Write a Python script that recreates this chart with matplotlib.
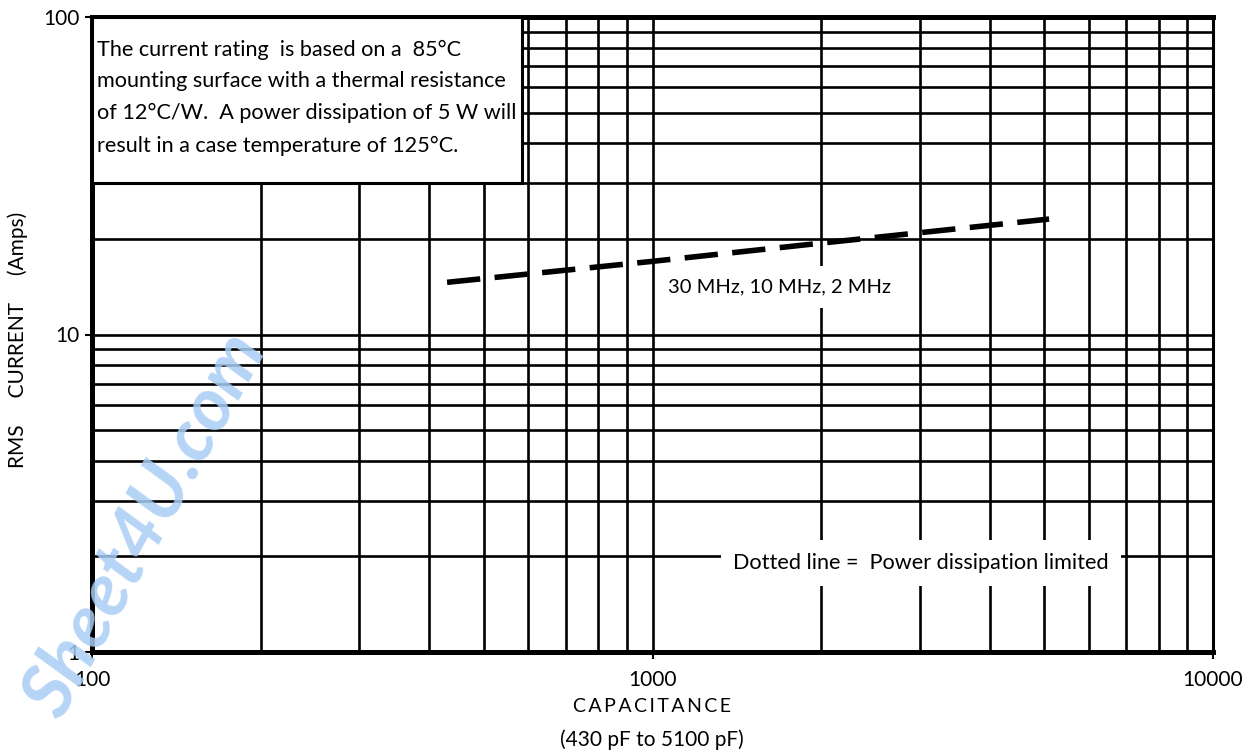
import matplotlib
matplotlib.use("Agg")
import matplotlib.pyplot as plt
from matplotlib.patches import Rectangle
from matplotlib.ticker import LogLocator, NullFormatter

# === data ===
cap_pf = [430, 1000, 2000, 5100]
current_a = [14.6, 17.0, 19.4, 23.1]

x_ticks = [100, 1000, 10000]
x_tick_labels = ["100", "1000", "10000"]
y_ticks = [1, 10, 100]
y_tick_labels = ["1", "10", "100"]

note_lines = [
    "The current rating  is based on a  85\u00b0C",
    "mounting surface with a thermal resistance",
    "of 12\u00b0C/W.  A power dissipation of 5 W will",
    "result in a case temperature of 125\u00b0C.",
]
curve_label = "30 MHz, 10 MHz, 2 MHz"
legend_note = "Dotted line =  Power dissipation limited"

plt.rcParams["font.family"] = ["Lato", "DejaVu Sans"]

W, H = 1253, 754
fig = plt.figure(figsize=(W / 100, H / 100), dpi=100)
ax = fig.add_axes([92 / W, 1 - 652 / H, (1213 - 92) / W, (652 - 17) / H])

ax.set_xscale("log")
ax.set_yscale("log")
ax.set_xlim(100, 10000)
ax.set_ylim(1, 100)

# grid on every minor decade step
ax.xaxis.set_minor_locator(LogLocator(base=10, subs=range(2, 10)))
ax.yaxis.set_minor_locator(LogLocator(base=10, subs=range(2, 10)))
ax.xaxis.set_minor_formatter(NullFormatter())
ax.yaxis.set_minor_formatter(NullFormatter())
ax.grid(which="both", color="black", lw=1.9, zorder=1)
ax.set_axisbelow(True)

ax.set_xticks(x_ticks)
ax.set_xticklabels(x_tick_labels)
ax.set_yticks(y_ticks)
ax.set_yticklabels(y_tick_labels)
ax.tick_params(which="major", direction="out", length=5, width=1.5,
               labelsize=15, pad=8)
ax.tick_params(axis="y", pad=4)
ax.tick_params(which="minor", length=0)

for side in ["left", "bottom", "top"]:
    ax.spines[side].set_linewidth(3.6)
ax.spines["right"].set_linewidth(2.2)

# the dashed power-dissipation curve
ax.plot(cap_pf, current_a, color="black", lw=4.0, ls=(0, (6, 2.6)),
        solid_capstyle="butt", dash_capstyle="butt", zorder=5)

# note box top left
ax.add_patch(Rectangle((100, 30), 585 - 100, 70, facecolor="white",
                       edgecolor="black", lw=2.2, zorder=3))
note_y = [50, 81, 113, 146]
for txt, yp in zip(note_lines, note_y):
    ax.text(97 / W, 1 - yp / H, txt, transform=fig.transFigure,
            fontsize=15.6, va="center", ha="left", zorder=6)

ax.text(780 / W, 1 - 287 / H, curve_label, transform=fig.transFigure,
        fontsize=14.5, va="center", ha="center", zorder=6,
        bbox=dict(facecolor="white", edgecolor="none", pad=9))
ax.text(921 / W, 1 - 563 / H, legend_note, transform=fig.transFigure,
        fontsize=15.6, va="center", ha="center", zorder=6,
        bbox=dict(facecolor="white", edgecolor="none", pad=9))

fig.text(652 / W, 1 - 707 / H, "C A P A C I T A N C E".replace(" ", "\u2009"),
         fontsize=14, ha="center", va="center")
fig.text(652 / W, 1 - 740 / H, "(430 pF to 5100 pF)",
         fontsize=15, ha="center", va="center")
fig.text(18 / W, 1 - 340 / H, "RMS     CURRENT     (Amps)", rotation=90,
         fontsize=15, ha="center", va="center")

# watermark
fig.text(145 / W, 1 - 525 / H, "Sheet4U.com", rotation=61, fontsize=54,
         fontweight="bold", style="italic", color="#a9cdf5", alpha=0.85,
         ha="center", va="center", zorder=10)

fig.savefig("out.png", dpi=100, facecolor="white")
